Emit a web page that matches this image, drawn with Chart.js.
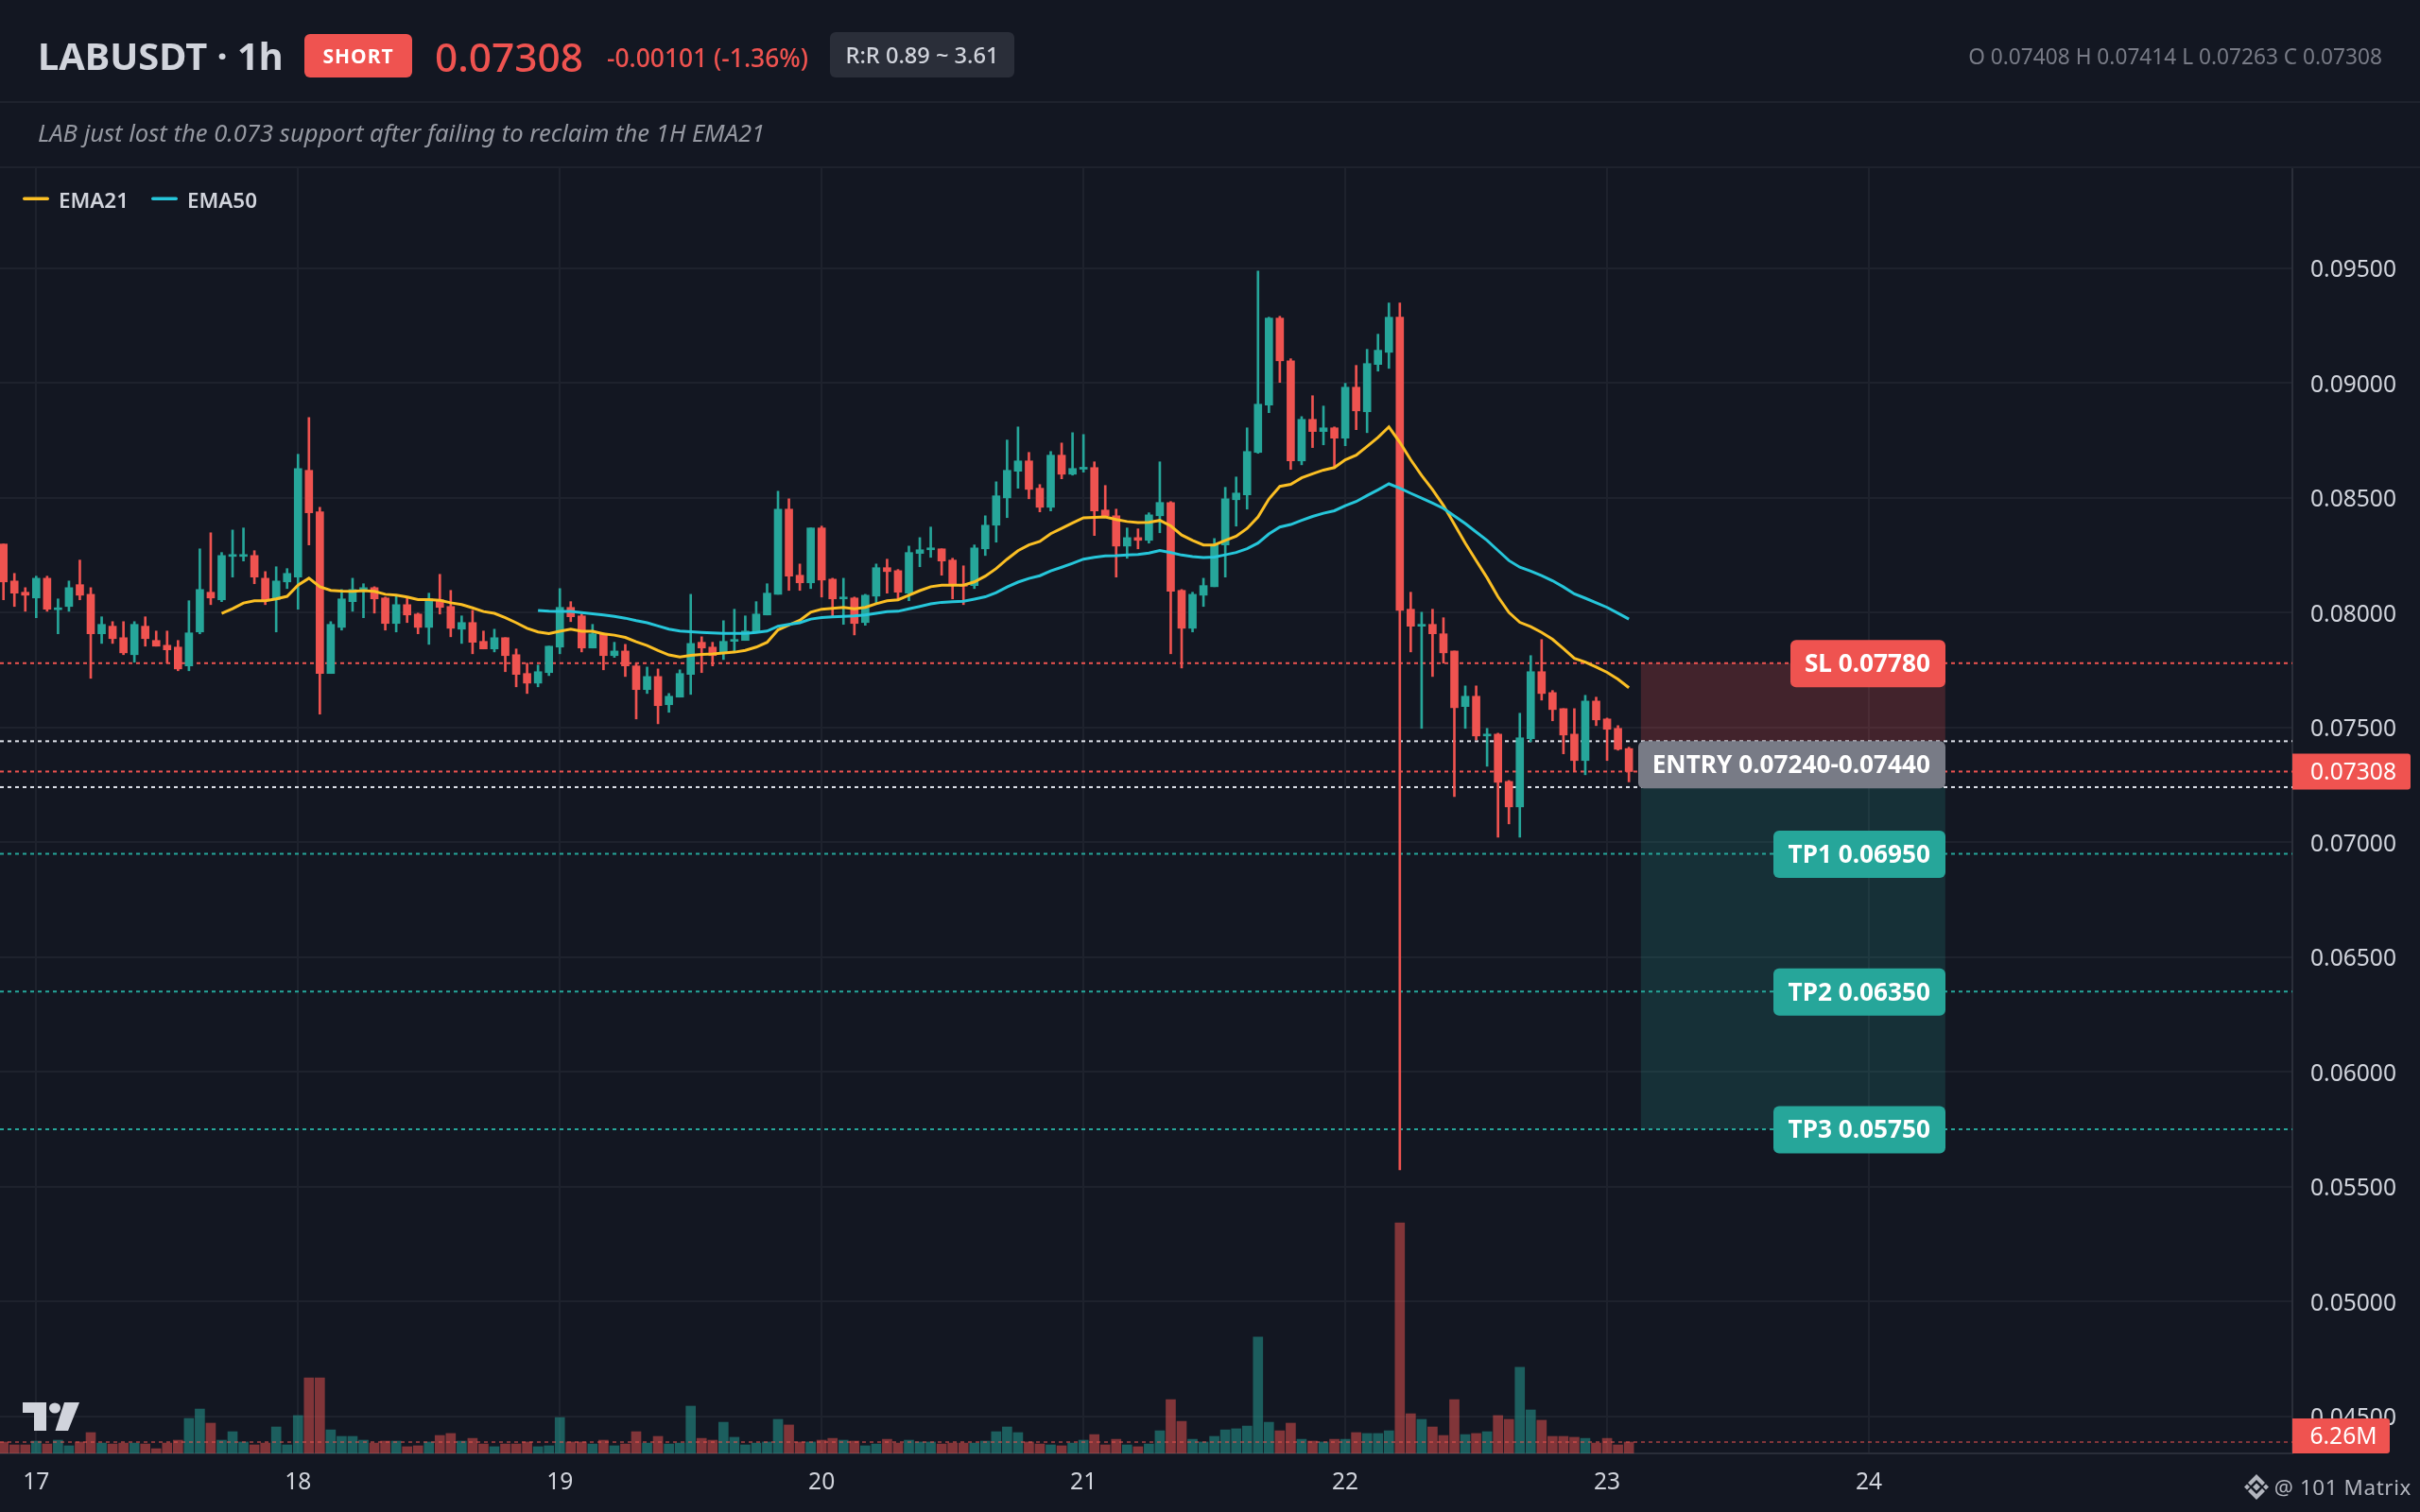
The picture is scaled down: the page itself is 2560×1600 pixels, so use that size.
<!DOCTYPE html>
<html>
<head>
<meta charset="utf-8">
<title>LABUSDT 1h</title>
<script src="https://cdn.jsdelivr.net/npm/chart.js@4/dist/chart.umd.min.js"></script>
<style>
  html, body { margin: 0; padding: 0; background: #131722; }
  #wrap { position: relative; width: 2560px; height: 1600px; overflow: hidden; font-family: "Noto Sans", sans-serif; }
  #myChart { position: absolute; left: 0; top: 0; }
  .t { position: absolute; white-space: nowrap; }
  .rule { position: absolute; left: 0; width: 2560px; height: 2px; background: #1e222d; }
  .badge { position: absolute; border-radius: 6px; text-align: center; white-space: nowrap; }
  svg { position: absolute; left: 0; top: 0; }
</style>
</head>
<body>
<div id="wrap">
  <canvas id="myChart" width="2560" height="1600"></canvas>
  <div class="rule" style="top:107px"></div>
  <div class="rule" style="top:176px"></div>

  <div class="t" style="left:40px;top:29px;line-height:60px;font-size:39.8px;font-weight:700;color:#d1d4dc">LABUSDT · 1h</div>
  <div class="badge" style="left:322px;top:36px;width:114px;height:46px;line-height:46px;background:#ef5350;color:#fff;font-size:21px;font-weight:700;letter-spacing:1px">SHORT</div>
  <div class="t" style="left:460px;top:30px;line-height:60px;font-size:42.4px;font-weight:500;color:#ef5350">0.07308</div>
  <div class="t" style="left:642px;top:36px;line-height:50px;font-size:26.4px;font-weight:500;color:#ef5350">-0.00101 (-1.36%)</div>
  <div class="badge" style="left:878px;top:34px;width:195px;height:48px;line-height:48px;background:#2a2e39;color:#d1d4dc;font-size:23.6px;font-weight:500">R:R 0.89 ~ 3.61</div>
  <div class="t" style="right:40px;top:40px;line-height:40px;font-size:22.7px;color:#787b86">O 0.07408 H 0.07414 L 0.07263 C 0.07308</div>
  <div class="t" style="left:40px;top:121px;line-height:40px;font-size:25.6px;font-style:italic;color:#9598a1">LAB just lost the 0.073 support after failing to reclaim the 1H EMA21</div>

  <div class="t" style="left:62px;top:194px;line-height:36px;font-size:22.4px;font-weight:600;color:#d1d4dc">EMA21</div>
  <div class="t" style="left:198px;top:194px;line-height:36px;font-size:22.4px;font-weight:600;color:#d1d4dc">EMA50</div>
  <div class="t" style="right:9px;top:1554px;line-height:40px;font-size:22.4px;color:#b2b5be;letter-spacing:.6px">@ 101 Matrix</div>

  <svg width="2560" height="1600">
    <rect x="24" y="208.5" width="28" height="3.5" rx="1.7" fill="#fbbf24"/>
    <rect x="160" y="208.5" width="28" height="3.5" rx="1.7" fill="#26c6da"/>
    <!-- tradingview mark -->
    <path d="M24 1484H49V1514H36V1495H24Z" fill="#d1d4dc"/>
    <ellipse cx="58" cy="1490" rx="6" ry="5.5" fill="#d1d4dc"/>
    <path d="M68 1484H84L72 1514H58.5Z" fill="#d1d4dc"/>
    <!-- binance mark -->
    <g fill="#b2b5be">
      <path d="M2387 1569.5l4 4-4 4-4-4Z"/>
      <path d="M2377 1570.5l3 3-3 3-3-3Z"/>
      <path d="M2397 1570.5l3 3-3 3-3-3Z"/>
      <path d="M2387 1560l9 9-3 3-6-6-6 6-3-3Z"/>
      <path d="M2387 1587l9-9-3-3-6 6-6-6-3 3Z"/>
    </g>
  </svg>
</div>

<script>
const opens = [
  0.08299,0.08138,0.08089,0.08064,0.08150,0.08013,0.08027,0.08122,0.08080,0.07908,
  0.07941,0.07891,0.07817,0.07941,0.07879,0.07858,0.07850,0.07768,0.07916,0.08089,
  0.08056,0.08245,0.08245,0.08249,0.08150,0.08056,0.08134,0.08155,0.08620,0.08439,
  0.07735,0.07936,0.08048,0.08093,0.08109,0.08064,0.07953,0.08035,0.07994,0.07936,
  0.08056,0.08027,0.07928,0.07957,0.07875,0.07842,0.07891,0.07817,0.07735,0.07693,
  0.07739,0.07850,0.08023,0.07986,0.07846,0.07908,0.07813,0.07833,0.07768,0.07665,
  0.07722,0.07599,0.07632,0.07731,0.07871,0.07850,0.07829,0.07875,0.07879,0.07912,
  0.07990,0.08080,0.08451,0.08163,0.08130,0.08369,0.08146,0.08060,0.08064,0.07957,
  0.08072,0.08196,0.08183,0.08085,0.08258,0.08274,0.08278,0.08229,0.08122,0.08118,
  0.08278,0.08381,0.08500,0.08616,0.08661,0.08542,0.08459,0.08686,0.08603,0.08625,
  0.08632,0.08447,0.08422,0.08290,0.08327,0.08315,0.08422,0.08480,0.08097,0.07932,
  0.08076,0.08113,0.08295,0.08492,0.08513,0.08698,0.08904,0.09283,0.09097,0.08661,
  0.08842,0.08789,0.08805,0.08760,0.08982,0.08875,0.09081,0.09134,0.09287,0.08015,
  0.07941,0.07949,0.07908,0.07833,0.07591,0.07636,0.07463,0.07471,0.07265,0.07154,
  0.07451,0.07743,0.07652,0.07582,0.07471,0.07356,0.07615,0.07537,0.07496,0.07408
];
const closes = [
  0.08134,0.08085,0.08076,0.08150,0.08015,0.08019,0.08109,0.08076,0.07908,0.07949,
  0.07887,0.07825,0.07949,0.07887,0.07854,0.07838,0.07755,0.07912,0.08101,0.08064,
  0.08249,0.08249,0.08249,0.08155,0.08056,0.08138,0.08171,0.08628,0.08435,0.07735,
  0.07949,0.08060,0.08101,0.08109,0.08060,0.07953,0.08035,0.07990,0.07936,0.08060,
  0.08023,0.07932,0.07957,0.07871,0.07842,0.07891,0.07813,0.07731,0.07693,0.07743,
  0.07854,0.08023,0.07982,0.07846,0.07908,0.07813,0.07833,0.07768,0.07665,0.07722,
  0.07595,0.07636,0.07735,0.07866,0.07846,0.07813,0.07875,0.07883,0.07920,0.07994,
  0.08085,0.08451,0.08159,0.08130,0.08369,0.08142,0.08060,0.08064,0.07953,0.08076,
  0.08196,0.08179,0.08089,0.08262,0.08274,0.08278,0.08225,0.08118,0.08115,0.08282,
  0.08381,0.08509,0.08620,0.08661,0.08537,0.08459,0.08686,0.08603,0.08628,0.08632,
  0.08443,0.08422,0.08290,0.08327,0.08315,0.08426,0.08480,0.08093,0.07932,0.08080,
  0.08118,0.08296,0.08496,0.08521,0.08702,0.08908,0.09283,0.09097,0.08661,0.08842,
  0.08789,0.08805,0.08760,0.08982,0.08879,0.09085,0.09143,0.09287,0.08010,0.07941,
  0.07949,0.07908,0.07825,0.07586,0.07636,0.07463,0.07471,0.07261,0.07154,0.07455,
  0.07743,0.07648,0.07578,0.07467,0.07356,0.07615,0.07533,0.07492,0.07405,0.07308
];
const highs = [
  0.08299,0.08171,0.08109,0.08159,0.08159,0.08060,0.08138,0.08229,0.08109,0.07982,
  0.07961,0.07961,0.07961,0.07982,0.07920,0.07920,0.07879,0.08052,0.08278,0.08348,
  0.08262,0.08360,0.08369,0.08270,0.08179,0.08200,0.08192,0.08690,0.08850,0.08459,
  0.07961,0.08101,0.08150,0.08126,0.08113,0.08068,0.08076,0.08064,0.07998,0.08085,
  0.08167,0.08097,0.07986,0.08010,0.07920,0.07928,0.07891,0.07842,0.07780,0.07772,
  0.07854,0.08105,0.08048,0.07994,0.07949,0.07912,0.07871,0.07862,0.07780,0.07763,
  0.07755,0.07648,0.07751,0.08080,0.07895,0.07871,0.07965,0.08015,0.07986,0.08048,
  0.08126,0.08529,0.08496,0.08212,0.08369,0.08377,0.08150,0.08150,0.08068,0.08080,
  0.08212,0.08233,0.08188,0.08290,0.08327,0.08373,0.08278,0.08237,0.08204,0.08295,
  0.08422,0.08570,0.08752,0.08809,0.08698,0.08558,0.08702,0.08739,0.08784,0.08776,
  0.08657,0.08554,0.08451,0.08369,0.08365,0.08435,0.08657,0.08484,0.08101,0.08089,
  0.08150,0.08323,0.08546,0.08591,0.08805,0.09488,0.09287,0.09291,0.09106,0.08854,
  0.08945,0.08900,0.08809,0.08999,0.09077,0.09147,0.09213,0.09349,0.09349,0.08089,
  0.08002,0.08015,0.07978,0.07833,0.07681,0.07681,0.07496,0.07475,0.07269,0.07562,
  0.07813,0.07883,0.07661,0.07582,0.07582,0.07640,0.07632,0.07541,0.07508,0.07414
];
const lows = [
  0.08056,0.08027,0.08006,0.07978,0.08006,0.07908,0.08006,0.08056,0.07714,0.07866,
  0.07866,0.07817,0.07784,0.07854,0.07854,0.07780,0.07747,0.07747,0.07908,0.08035,
  0.08048,0.08155,0.08225,0.08126,0.08035,0.07916,0.08105,0.08015,0.08295,0.07558,
  0.07735,0.07924,0.08006,0.07978,0.07998,0.07924,0.07916,0.07957,0.07908,0.07862,
  0.07994,0.07895,0.07866,0.07821,0.07842,0.07829,0.07743,0.07677,0.07648,0.07677,
  0.07726,0.07821,0.07961,0.07829,0.07846,0.07751,0.07805,0.07722,0.07537,0.07648,
  0.07516,0.07566,0.07632,0.07644,0.07739,0.07768,0.07796,0.07833,0.07879,0.07912,
  0.07990,0.08080,0.08097,0.08097,0.08105,0.08068,0.07986,0.07949,0.07903,0.07945,
  0.08043,0.08085,0.08060,0.08052,0.08200,0.08241,0.08163,0.08060,0.08035,0.08105,
  0.08249,0.08307,0.08414,0.08542,0.08496,0.08439,0.08443,0.08583,0.08599,0.08612,
  0.08336,0.08414,0.08155,0.08237,0.08278,0.08303,0.08348,0.07821,0.07759,0.07916,
  0.08027,0.08113,0.08155,0.08377,0.08451,0.08694,0.08871,0.09003,0.08624,0.08644,
  0.08719,0.08731,0.08628,0.08727,0.08797,0.08784,0.09052,0.09064,0.05573,0.07829,
  0.07496,0.07722,0.07780,0.07199,0.07496,0.07446,0.07331,0.07022,0.07080,0.07022,
  0.07438,0.07619,0.07529,0.07385,0.07307,0.07294,0.07508,0.07356,0.07401,0.07263
];
// volume in millions
const volumes = [
  6.26,4.7,4.7,6.8,5.2,7.3,4.2,6.3,11.5,5.7,
  5.2,5.7,5.7,5.2,2.6,5.7,7.3,19.3,24.5,16.7,
  7.3,12.0,6.3,4.7,5.7,14.6,4.7,20.9,41.7,41.7,
  13.0,9.4,9.4,7.3,5.7,6.8,6.8,3.7,4.2,6.3,
  9.9,11.0,6.8,8.3,5.2,3.7,5.2,5.2,6.3,3.7,
  4.2,19.8,6.3,6.3,5.2,7.3,4.2,5.2,12.0,5.7,
  9.4,5.2,5.7,26.1,8.3,7.3,17.2,8.9,4.7,5.7,
  6.3,18.8,15.7,6.3,6.3,7.3,8.3,7.3,6.8,4.2,
  5.2,7.8,5.7,7.3,6.3,6.3,5.2,5.7,5.7,5.7,
  6.8,12.0,14.6,11.5,6.3,5.2,4.7,4.2,5.7,7.3,
  10.4,4.7,7.8,4.7,3.7,5.2,12.5,29.7,17.7,7.8,
  6.3,9.4,13.0,13.6,15.1,64.2,17.2,12.5,16.7,7.8,
  6.8,6.3,7.8,7.8,11.5,11.0,11.0,12.5,127.3,21.9,
  18.8,14.6,9.9,29.7,10.4,11.0,12.0,20.9,18.8,47.5,
  24.0,18.3,9.4,9.4,8.9,8.3,5.7,8.3,4.7,6.26
];
const ema21Start = 20;
const ema21 = [
  0.07997,0.08017,0.08042,0.08052,0.08052,0.08060,0.08071,0.08120,0.08150,0.08113,
  0.08097,0.08094,0.08093,0.08096,0.08093,0.08080,0.08076,0.08068,0.08057,0.08057,
  0.08054,0.08043,0.08035,0.08021,0.08005,0.07997,0.07978,0.07956,0.07932,0.07916,
  0.07909,0.07919,0.07928,0.07919,0.07919,0.07908,0.07902,0.07892,0.07873,0.07857,
  0.07835,0.07816,0.07807,0.07814,0.07818,0.07820,0.07824,0.07828,0.07836,0.07850,
  0.07871,0.07925,0.07946,0.07967,0.08002,0.08015,0.08019,0.08023,0.08017,0.08023,
  0.08039,0.08052,0.08056,0.08076,0.08096,0.08113,0.08120,0.08120,0.08120,0.08134,
  0.08159,0.08192,0.08233,0.08270,0.08295,0.08310,0.08344,0.08367,0.08391,0.08413,
  0.08415,0.08417,0.08406,0.08397,0.08392,0.08393,0.08402,0.08378,0.08338,0.08315,
  0.08295,0.08295,0.08315,0.08333,0.08367,0.08417,0.08495,0.08550,0.08559,0.08587,
  0.08605,0.08621,0.08632,0.08666,0.08686,0.08724,0.08763,0.08809,0.08742,0.08666,
  0.08598,0.08536,0.08467,0.08385,0.08303,0.08227,0.08152,0.08069,0.08001,0.07958,
  0.07939,0.07914,0.07884,0.07843,0.07801,0.07785,0.07763,0.07740,0.07710,0.07673
];
const ema50Start = 49;
const ema50 = [
  0.08010,0.08006,0.08005,0.08005,0.08000,0.07995,0.07990,0.07984,0.07976,0.07965,
  0.07956,0.07942,0.07928,0.07920,0.07917,0.07914,0.07912,0.07910,0.07910,0.07910,
  0.07914,0.07920,0.07941,0.07949,0.07956,0.07972,0.07979,0.07982,0.07984,0.07986,
  0.07990,0.07997,0.08004,0.08006,0.08017,0.08027,0.08038,0.08045,0.08048,0.08050,
  0.08059,0.08069,0.08087,0.08112,0.08133,0.08149,0.08161,0.08182,0.08198,0.08215,
  0.08233,0.08241,0.08247,0.08248,0.08251,0.08253,0.08260,0.08271,0.08262,0.08251,
  0.08244,0.08240,0.08242,0.08252,0.08262,0.08279,0.08303,0.08343,0.08373,0.08384,
  0.08402,0.08419,0.08433,0.08444,0.08466,0.08484,0.08510,0.08535,0.08561,0.08542,
  0.08520,0.08499,0.08477,0.08454,0.08421,0.08388,0.08351,0.08315,0.08271,0.08227,
  0.08198,0.08181,0.08161,0.08139,0.08112,0.08082,0.08063,0.08043,0.08023,0.07998,
  0.07972
];
const dayLabels = ["17","18","19","20","21","22","23","24"];
const dayIndexes = [3,27,51,75,99,123,147,171];
const priceTicks = [0.095,0.09,0.085,0.08,0.075,0.07,0.065,0.06,0.055,0.05,0.045];
const slPrice = 0.0778;
const entryHigh = 0.0744;
const entryLow = 0.0724;
const lastPrice = 0.07308;
const lastVolume = 6.26;
const tpLabels = ["TP1 0.06950","TP2 0.06350","TP3 0.05750"];
const tpPrices = [0.0695,0.0635,0.0575];

const red = "#ef5350";
const green = "#26a69a";
const redVol = "rgba(239,83,80,0.5)";
const greenVol = "rgba(38,166,154,0.5)";
const xMin = -0.319, xMax = 209.82;
const zoneFrom = 150.1, zoneTo = 178.0;

const idx = opens.map((_, i) => i);
const isUp = i => closes[i] >= opens[i];

function levelLine(value, color, axis) {
  return {
    type: "line",
    data: [{ x: xMin, y: value }, { x: xMax, y: value }],
    yAxisID: axis || "y",
    borderColor: color,
    borderWidth: 2,
    borderDash: [4, 4],
    pointRadius: 0,
    order: 4,
  };
}

function label(ctx, text, x1, x2, yc, color) {
  ctx.fillStyle = color;
  ctx.beginPath();
  ctx.roundRect(x1, yc - 24.5, x2 - x1, 50, 6);
  ctx.fill();
  ctx.fillStyle = "#ffffff";
  ctx.font = "700 26.2px 'Noto Sans'";
  ctx.textAlign = "right";
  ctx.textBaseline = "middle";
  ctx.fillText(text, x2 - 16, yc + 2);
}

const tradePlugin = {
  id: "trade",
  beforeDatasetsDraw(chart) {
    const { ctx, scales } = chart;
    const x1 = scales.x.getPixelForValue(zoneFrom);
    const x2 = scales.x.getPixelForValue(zoneTo);
    const py = v => scales.y.getPixelForValue(v);
    ctx.save();
    ctx.fillStyle = "rgba(239,83,80,0.22)";
    ctx.fillRect(x1, py(slPrice), x2 - x1, py(entryHigh) - py(slPrice));
    ctx.fillStyle = "rgba(38,166,154,0.18)";
    ctx.fillRect(x1, py(entryLow), x2 - x1, py(tpPrices[2]) - py(entryLow));
    ctx.restore();
  },
  afterDraw(chart) {
    const { ctx, scales } = chart;
    const py = v => scales.y.getPixelForValue(v);
    ctx.save();
    label(ctx, "SL 0.07780", 1894, 2058, py(slPrice), red);
    label(ctx, "ENTRY 0.07240-0.07440", 1733, 2058, py((entryHigh + entryLow) / 2), "#787b86");
    tpPrices.forEach((p, i) => label(ctx, tpLabels[i], 1876, 2058, py(p), green));

    // price and volume tags on the axis
    ctx.fillStyle = red;
    ctx.beginPath();
    ctx.roundRect(2425, py(lastPrice) - 19, 125, 38, [0, 3, 3, 0]);
    ctx.fill();
    ctx.beginPath();
    ctx.roundRect(2425, 1501, 103, 37, [0, 3, 3, 0]);
    ctx.fill();
    ctx.fillStyle = "#ffffff";
    ctx.font = "24.6px 'Noto Sans'";
    ctx.textAlign = "left";
    ctx.textBaseline = "middle";
    ctx.fillText(lastPrice.toFixed(5), 2444, py(lastPrice) + 2);
    ctx.textAlign = "center";
    ctx.fillText(lastVolume.toFixed(2) + "M", 2479, 1521);
    ctx.restore();
  },
};

new Chart(document.getElementById("myChart"), {
  type: "bar",
  plugins: [tradePlugin],
  data: {
    datasets: [
      {
        type: "line",
        label: "EMA21",
        data: ema21.map((v, i) => ({ x: ema21Start + i, y: v })),
        borderColor: "#fbbf24",
        borderWidth: 3,
        pointRadius: 0,
        tension: 0,
        order: 1,
      },
      {
        type: "line",
        label: "EMA50",
        data: ema50.map((v, i) => ({ x: ema50Start + i, y: v })),
        borderColor: "#26c6da",
        borderWidth: 3,
        pointRadius: 0,
        tension: 0,
        order: 0,
      },
      {
        label: "body",
        data: idx.map(i => ({ x: i, y: [opens[i], closes[i]] })),
        backgroundColor: idx.map(i => (isUp(i) ? green : red)),
        barThickness: 8,
        minBarLength: 2,
        grouped: false,
        order: 2,
      },
      {
        label: "wick",
        data: idx.map(i => ({ x: i, y: [lows[i], highs[i]] })),
        backgroundColor: idx.map(i => (isUp(i) ? green : red)),
        barThickness: 2,
        grouped: false,
        order: 3,
      },
      levelLine(slPrice, red),
      levelLine(entryHigh, "#e0e3eb"),
      levelLine(lastPrice, red),
      levelLine(entryLow, "#e0e3eb"),
      ...tpPrices.map(p => levelLine(p, green)),
      levelLine(lastVolume, redVol, "yVol"),
      {
        label: "volume",
        data: idx.map(i => ({ x: i, y: volumes[i] })),
        yAxisID: "yVol",
        backgroundColor: idx.map(i => (isUp(i) ? greenVol : redVol)),
        barThickness: 10,
        grouped: false,
        order: 5,
      },
    ],
  },
  options: {
    responsive: false,
    devicePixelRatio: 1,
    animation: false,
    layout: { padding: { top: 177, left: 0, right: 0, bottom: 0 } },
    plugins: { legend: { display: false }, tooltip: { enabled: false } },
    scales: {
      x: {
        type: "linear",
        min: xMin,
        max: xMax,
        offset: false,
        afterFit: s => { s.height = 62; },
        afterBuildTicks: s => { s.ticks = dayIndexes.map(v => ({ value: v })); },
        grid: { color: "#1e222d", lineWidth: 2, offset: false, drawTicks: false },
        border: { color: "#2a2e39", width: 2 },
        ticks: {
          autoSkip: false,
          maxRotation: 0,
          padding: 16,
          color: "#d1d4dc",
          font: { family: "Noto Sans", size: 24.6 },
          callback: v => dayLabels[dayIndexes.indexOf(v)],
        },
      },
      y: {
        position: "right",
        min: 0.04338,
        max: 0.0994,
        afterFit: s => { s.width = 135; },
        afterBuildTicks: s => { s.ticks = priceTicks.map(v => ({ value: v })); },
        grid: { color: "#1e222d", lineWidth: 2, drawTicks: false },
        border: { color: "#2a2e39", width: 2 },
        ticks: {
          padding: 19,
          labelOffset: 2.5,
          color: "#d1d4dc",
          font: { family: "Noto Sans", size: 24.6 },
          callback: v => v.toFixed(5),
        },
      },
      yVol: { display: false, min: 0, max: 710 },
    },
  },
});
</script>
</body>
</html>
